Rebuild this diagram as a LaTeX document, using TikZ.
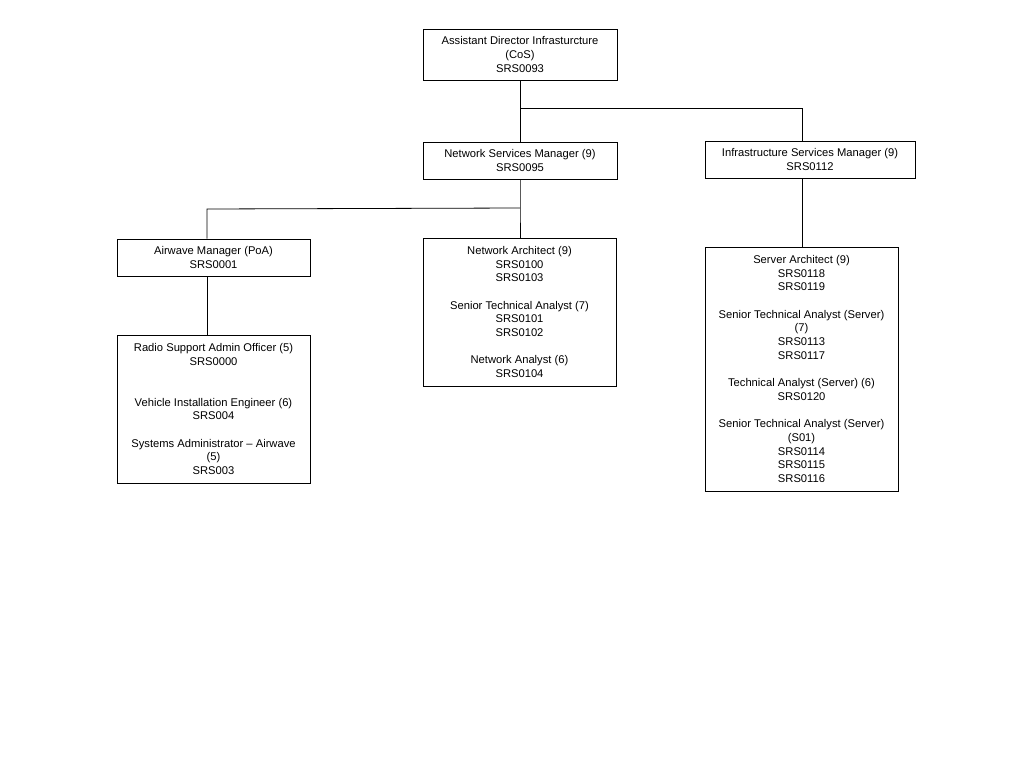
\documentclass[tikz,border=0pt]{standalone}
\usepackage{fontspec}
\setmainfont{Liberation Sans}
\begin{document}
\begin{tikzpicture}[x=1pt,y=-1pt,
  box/.style={draw,line width=0.8pt,align=center,inner sep=0pt,
    font=\fontsize{11.2}{13.7}\selectfont},
  conn/.style={line width=0.8pt}]
\useasboundingbox[fill=white] (0,0) rectangle (1024,768);
\node[box,minimum width=194,minimum height=51] (top) at (520,54.5)
  {Assistant Director Infrasturcture\\(CoS)\\SRS0093};
\node[box,minimum width=194,minimum height=37] (nsm) at (520,160.5)
  {Network Services Manager (9)\\SRS0095};
\node[box,minimum width=210,minimum height=37] (ism) at (810,159.5)
  {Infrastructure Services Manager (9)\\SRS0112};
\node[box,minimum width=193,minimum height=37] (air) at (213.5,257.5)
  {Airwave Manager (PoA)\\SRS0001};
\node[box,minimum width=193,minimum height=148] (net) at (519.5,312)
  {Network Architect (9)\\SRS0100\\SRS0103\\[13.7pt]Senior Technical Analyst (7)\\SRS0101\\SRS0102\\[13.7pt]Network Analyst (6)\\SRS0104};
\node[box,minimum width=193,minimum height=244] (srv) at (801.5,369)
  {Server Architect (9)\\SRS0118\\SRS0119\\[13.7pt]Senior Technical Analyst (Server)\\(7)\\SRS0113\\SRS0117\\[13.7pt]Technical Analyst (Server) (6)\\SRS0120\\[13.7pt]Senior Technical Analyst (Server)\\(S01)\\SRS0114\\SRS0115\\SRS0116};
\node[box,minimum width=193,minimum height=148] (rad) at (213.5,409)
  {Radio Support Admin Officer (5)\\SRS0000\\[27.4pt]Vehicle Installation Engineer (6)\\SRS004\\[13.7pt]Systems Administrator – Airwave\\(5)\\SRS003};
\coordinate (j1) at (520,108);
\coordinate (j2) at (520,208);
\coordinate (j3) at (207,209);
\coordinate (ismin) at (802,141);
\draw[conn] (top.south) -- (nsm.north);
\draw[conn] (j1) -| (ismin);
\draw[conn] (nsm.south) -- (j2) -- (net.north -| j2);
\draw[conn] (j2) -- (j3) -- (j3 |- air.north);
\draw[conn] (j3 |- air.south) -- (j3 |- rad.north);
\draw[conn] (srv.north -| ismin) -- (ismin |- ism.south);
\end{tikzpicture}
\end{document}
